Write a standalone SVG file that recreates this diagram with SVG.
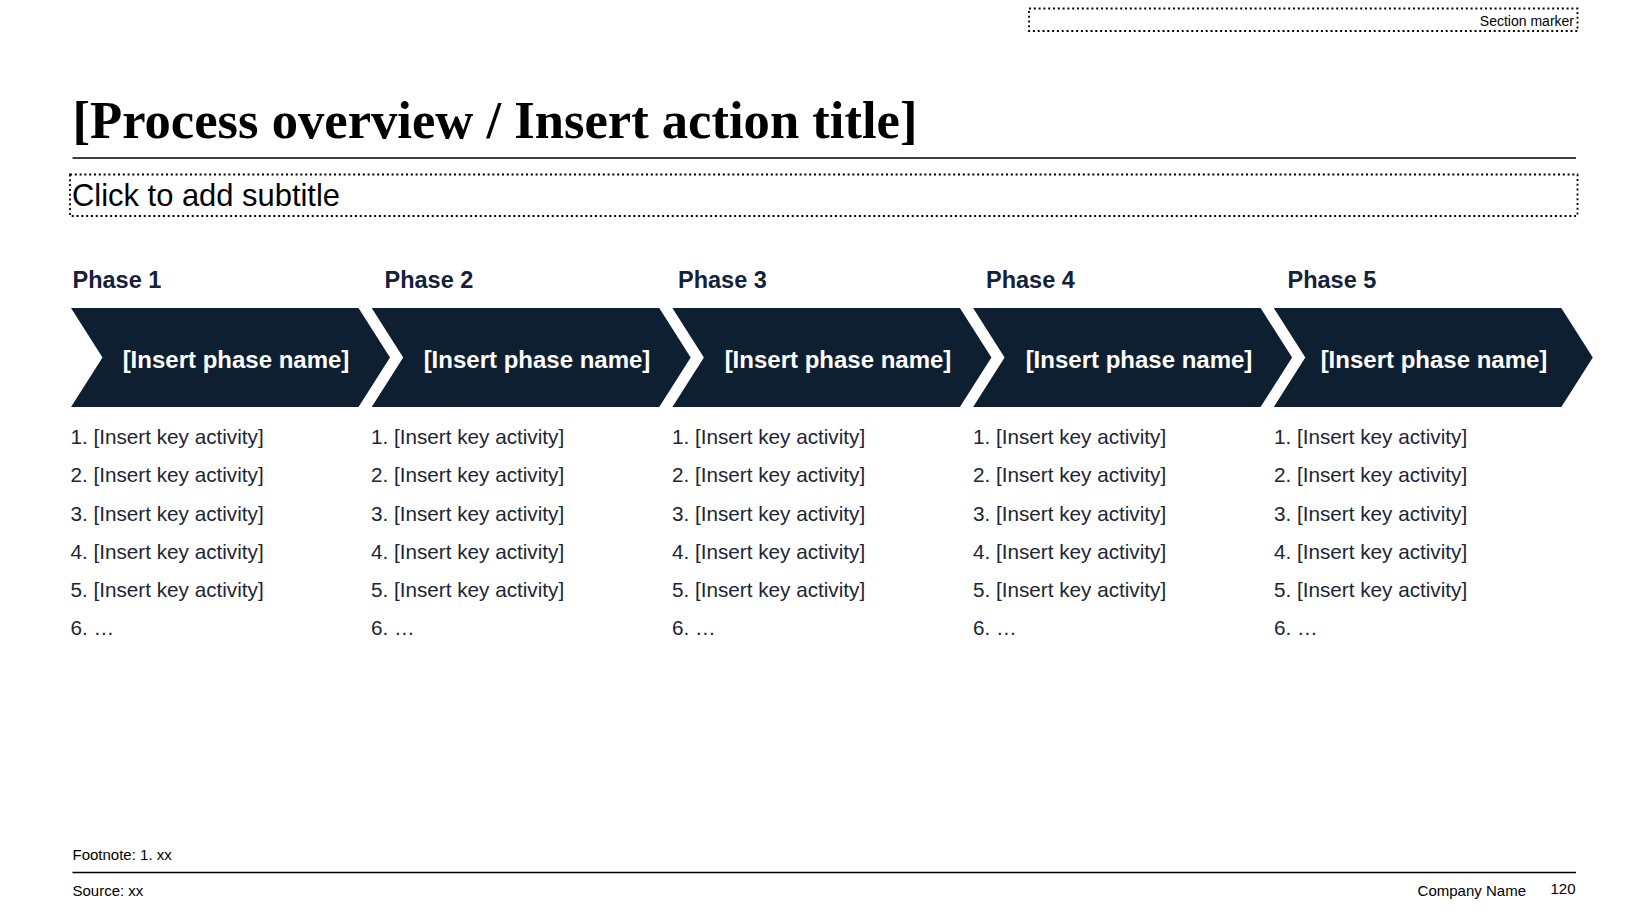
<svg xmlns="http://www.w3.org/2000/svg" width="1648" height="924" viewBox="0 0 1648 924">
<defs>
<style>
.dot{fill:none;stroke:#000;stroke-width:1.8;stroke-dasharray:2 2.8}
.rule{stroke:#000;stroke-width:1.3}
.title{font-family:"Liberation Serif","Times New Roman",serif;font-weight:bold;font-size:52px;fill:#000}
.sub{font-family:"Liberation Sans",Arial,sans-serif;font-size:30.5px;fill:#000}
.small{font-family:"Liberation Sans",Arial,sans-serif;font-size:14px;fill:#000}
.foot{font-family:"Liberation Sans",Arial,sans-serif;font-size:15px;fill:#000}
.phase{font-family:"Liberation Sans",Arial,sans-serif;font-weight:bold;font-size:23.5px;fill:#13223a}
.chev{fill:#0f1f32}
.pname{font-family:"Liberation Sans",Arial,sans-serif;font-weight:bold;font-size:24px;fill:#fff;text-anchor:middle}
.act{font-family:"Liberation Sans",Arial,sans-serif;font-size:20.7px;fill:#1c2535}
</style>
<polygon id="chevshape" points="0,308 287.5,308 319,357.5 287.5,407 0,407 31.5,357.5"/>
</defs>

<g id="header">
<rect class="dot" x="1029" y="8.5" width="548.5" height="22.5"/>
<text class="small" x="1574" y="26" text-anchor="end">Section marker</text>
<text class="title" x="72.5" y="138" textLength="845" lengthAdjust="spacingAndGlyphs">[Process overview / Insert action title]</text>
<line class="rule" x1="72.5" y1="158" x2="1576" y2="158"/>
<rect class="dot" x="70" y="174.5" width="1507.5" height="41.5"/>
<text class="sub" x="72" y="206" textLength="268" lengthAdjust="spacingAndGlyphs">Click to add subtitle</text>
</g>

<g id="phase1">
<text class="phase" x="72.5" y="288">Phase 1</text>
<use href="#chevshape" class="chev" x="71"/>
<text class="pname" x="236" y="368">[Insert phase name]</text>
<text class="act" x="70.5"><tspan x="70.5" y="444">1. [Insert key activity]</tspan><tspan x="70.5" y="481.5">2. [Insert key activity]</tspan><tspan x="70.5" y="521">3. [Insert key activity]</tspan><tspan x="70.5" y="558.7">4. [Insert key activity]</tspan><tspan x="70.5" y="597">5. [Insert key activity]</tspan><tspan x="70.5" y="634.8">6. …</tspan></text>
</g>

<g id="phase2">
<text class="phase" x="384.5" y="288">Phase 2</text>
<use href="#chevshape" class="chev" x="371.7"/>
<text class="pname" x="537" y="368">[Insert phase name]</text>
<text class="act" x="371"><tspan x="371" y="444">1. [Insert key activity]</tspan><tspan x="371" y="481.5">2. [Insert key activity]</tspan><tspan x="371" y="521">3. [Insert key activity]</tspan><tspan x="371" y="558.7">4. [Insert key activity]</tspan><tspan x="371" y="597">5. [Insert key activity]</tspan><tspan x="371" y="634.8">6. …</tspan></text>
</g>

<g id="phase3">
<text class="phase" x="678" y="288">Phase 3</text>
<use href="#chevshape" class="chev" x="672.4"/>
<text class="pname" x="838" y="368">[Insert phase name]</text>
<text class="act" x="672"><tspan x="672" y="444">1. [Insert key activity]</tspan><tspan x="672" y="481.5">2. [Insert key activity]</tspan><tspan x="672" y="521">3. [Insert key activity]</tspan><tspan x="672" y="558.7">4. [Insert key activity]</tspan><tspan x="672" y="597">5. [Insert key activity]</tspan><tspan x="672" y="634.8">6. …</tspan></text>
</g>

<g id="phase4">
<text class="phase" x="986" y="288">Phase 4</text>
<use href="#chevshape" class="chev" x="973.1"/>
<text class="pname" x="1139" y="368">[Insert phase name]</text>
<text class="act" x="973"><tspan x="973" y="444">1. [Insert key activity]</tspan><tspan x="973" y="481.5">2. [Insert key activity]</tspan><tspan x="973" y="521">3. [Insert key activity]</tspan><tspan x="973" y="558.7">4. [Insert key activity]</tspan><tspan x="973" y="597">5. [Insert key activity]</tspan><tspan x="973" y="634.8">6. …</tspan></text>
</g>

<g id="phase5">
<text class="phase" x="1287.5" y="288">Phase 5</text>
<use href="#chevshape" class="chev" x="1273.8"/>
<text class="pname" x="1434" y="368">[Insert phase name]</text>
<text class="act" x="1274"><tspan x="1274" y="444">1. [Insert key activity]</tspan><tspan x="1274" y="481.5">2. [Insert key activity]</tspan><tspan x="1274" y="521">3. [Insert key activity]</tspan><tspan x="1274" y="558.7">4. [Insert key activity]</tspan><tspan x="1274" y="597">5. [Insert key activity]</tspan><tspan x="1274" y="634.8">6. …</tspan></text>
</g>

<g id="connectors"></g>

<g id="footer">
<text class="foot" x="72.5" y="860">Footnote: 1. xx</text>
<line class="rule" x1="72.5" y1="872.5" x2="1576" y2="872.5"/>
<text class="foot" x="72.5" y="896">Source: xx</text>
<text class="foot" x="1526" y="896" text-anchor="end">Company Name</text>
<text class="foot" x="1575.5" y="894" text-anchor="end">120</text>
</g>
</svg>
